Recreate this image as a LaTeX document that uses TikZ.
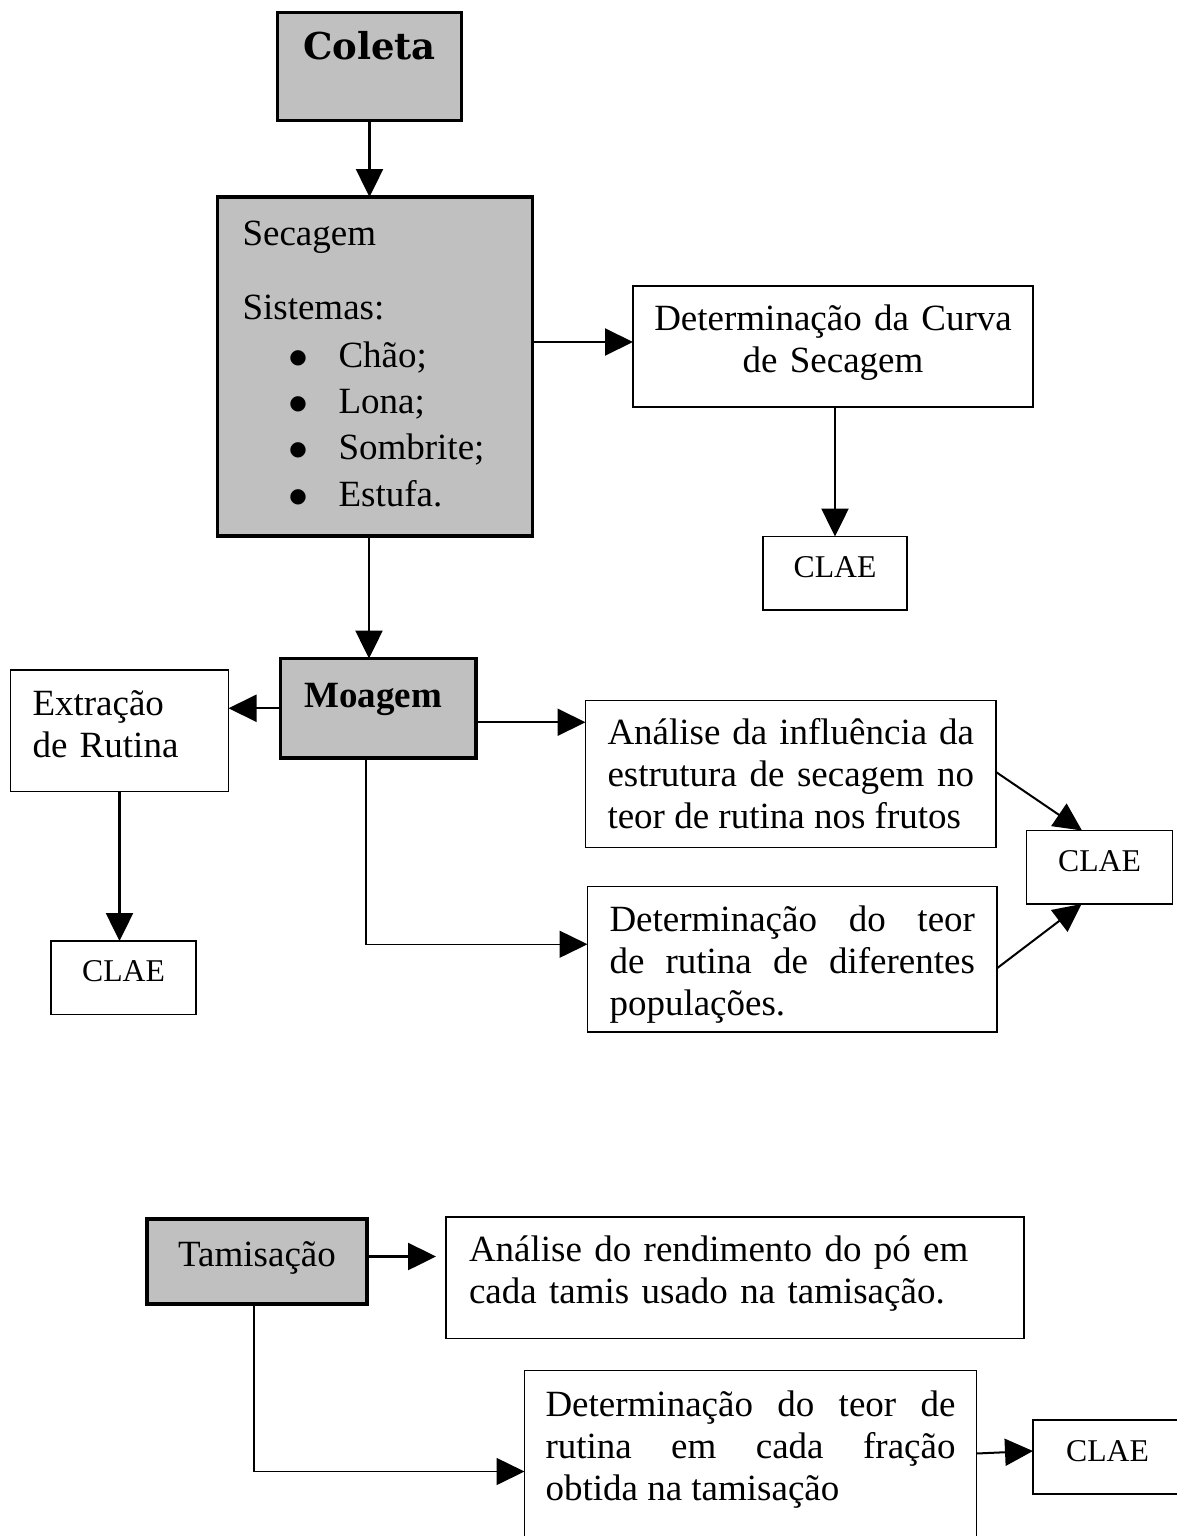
\documentclass[tikz,border=0pt]{standalone}
\usepackage{fontspec}
\setmainfont{Liberation Serif}
\newfontfamily\coletafont{DejaVu Serif}
\newfontfamily\simbolo{DejaVu Sans}
\usetikzlibrary{arrows.meta}
\definecolor{cinza}{RGB}{192,192,192}
\hbadness=10000
\tolerance=10000
\hyphenpenalty=10000
\newcommand{\marca}{\makebox[96pt][l]{\hspace*{55.5pt}\makebox[0pt]{\raisebox{4pt}{\simbolo\fontsize{20}{20}\selectfont ●}}}}

\tikzset{
  caixa/.style={draw, line width=1.5pt, fill=white, anchor=north west, outer sep=0pt,
    inner ysep=0pt, font=\fontsize{37}{42}\selectfont},
  destaque/.style={caixa, fill=cinza, line width=3.5pt},
  clae/.style={caixa, minimum width=#1, inner xsep=0pt, text height=40.5pt, text depth=33pt,
    font=\fontsize{31.7}{36}\selectfont},
  seta/.style={-{Triangle[length=28pt,width=27pt]}, line width=2pt},
}

\begin{document}
\begin{tikzpicture}[x=1pt,y=-1pt]

  \useasboundingbox (0,0) rectangle (1177,1536);
  \clip (0,0) rectangle (1177,1536);

  \node[destaque, minimum width=184pt, inner xsep=0pt, text height=47.5pt, text depth=60.5pt,
    font=\coletafont\bfseries\fontsize{37}{42}\selectfont] (coleta) at (277.5,12.5) {Coleta};
  \node[destaque, inner xsep=25pt, text width=265pt, align=left, text height=48pt,
    text depth=291pt] (secagem) at (217.5,197) {Secagem\\[32pt]
    Sistemas:\\[6pt]
    \marca Chão;\\[4pt]
    \marca Lona;\\[4pt]
    \marca Sombrite;\\[5pt]
    \marca Estufa.};
  \node[caixa, inner xsep=10pt, text width=380pt, align=center, text height=44pt,
    text depth=77pt] (curva) at (633,286) {Determinação da Curva\\de Secagem};
  \node[clae=144pt] (clae1) at (763,536.5) {CLAE};

  \node[destaque, inner xsep=24pt, text width=147.5pt, align=left, text height=48.5pt,
    text depth=51pt, font=\bfseries\fontsize{37}{42}\selectfont] (moagem) at (280.5,658.5) {Moagem};
  \node[caixa, inner xsep=22pt, text width=174pt, align=left, text height=45pt,
    text depth=76.5pt] (extracao) at (10.5,670) {Extração\\de Rutina};
  \node[clae=145pt] (clae3) at (51,941) {CLAE};
  \node[caixa, inner xsep=22pt, text width=366.5pt, align=justify, text height=43.5pt,
    text depth=103.5pt] (influencia) at (585.5,700.5)
    {Análise da influência da\linebreak estrutura de secagem no\linebreak teor de rutina nos frutos};
  \node[clae=146pt] (clae2) at (1026.5,830.5) {CLAE};
  \node[caixa, inner xsep=22pt, text width=365.5pt, align=justify, text height=45pt,
    text depth=100.5pt] (populacoes) at (587.5,886.5)
    {Determinação do teor\linebreak de rutina de diferentes\linebreak populações.};

  \node[destaque, minimum width=220pt, inner xsep=0pt, text height=47.5pt,
    text depth=37.5pt] (tamisacao) at (147,1219) {Tamisação};
  \node[caixa, inner xsep=23pt, text width=532pt, align=left, text height=44.5pt,
    text depth=77pt] (rendimento) at (446,1217) {Análise do rendimento do pó em\\cada tamis usado na tamisação.};
  \node[caixa, inner xsep=21pt, text width=410pt, align=justify, text height=46pt,
    text depth=128pt] (fracao) at (524.5,1370.5)
    {Determinação do teor de\linebreak rutina em cada fração\linebreak obtida na tamisação};
  \node[clae=149pt, text height=41pt] (clae4) at (1033,1420) {CLAE};

  \coordinate (s1) at ([xshift=-6pt]secagem.south);
  \coordinate (c1) at ([yshift=4.5pt]curva.west);
  \coordinate (m1) at ([yshift=-14pt]moagem.east);
  \coordinate (m2) at ([xshift=-12.5pt]moagem.south);
  \coordinate (p1) at ([yshift=15pt]populacoes.west);
  \coordinate (t1) at ([yshift=5pt]tamisacao.east);
  \coordinate (r1) at ([xshift=-10pt]rendimento.west);
  \coordinate (t2) at ([xshift=-3pt]tamisacao.south);
  \coordinate (f1) at ([yshift=-14pt]fracao.west);

  \draw[seta, line width=2.5pt] (coleta.south) -- (coleta.south |- secagem.north);
  \draw[seta] (c1 -| secagem.east) -- (c1);
  \draw[seta, line width=2.5pt] (curva.south -| clae1.north) -- (clae1.north);
  \draw[seta, line width=2.5pt] (s1) -- (s1 |- moagem.north);
  \draw[seta] (moagem.west) -- (moagem.west -| extracao.east);
  \draw[seta] (m1) -- (m1 -| influencia.west);
  \draw[seta, line width=1.5pt] (m2) |- (p1);
  \draw[seta, line width=2.5pt] (extracao.south) -- (extracao.south |- clae3.north);
  \draw[seta] ([yshift=2pt]influencia.east) -- ([xshift=-17.5pt]clae2.north);
  \draw[seta] ([yshift=-9pt]populacoes.east) -- ([xshift=-18pt]clae2.south);
  \draw[seta, line width=2.5pt] (t1) -- (t1 -| r1);
  \draw[seta, line width=1.5pt] (t2) |- (f1);
  \draw[seta] ([yshift=4pt]fracao.east) -- ([yshift=6pt]clae4.west);

\end{tikzpicture}
\end{document}
